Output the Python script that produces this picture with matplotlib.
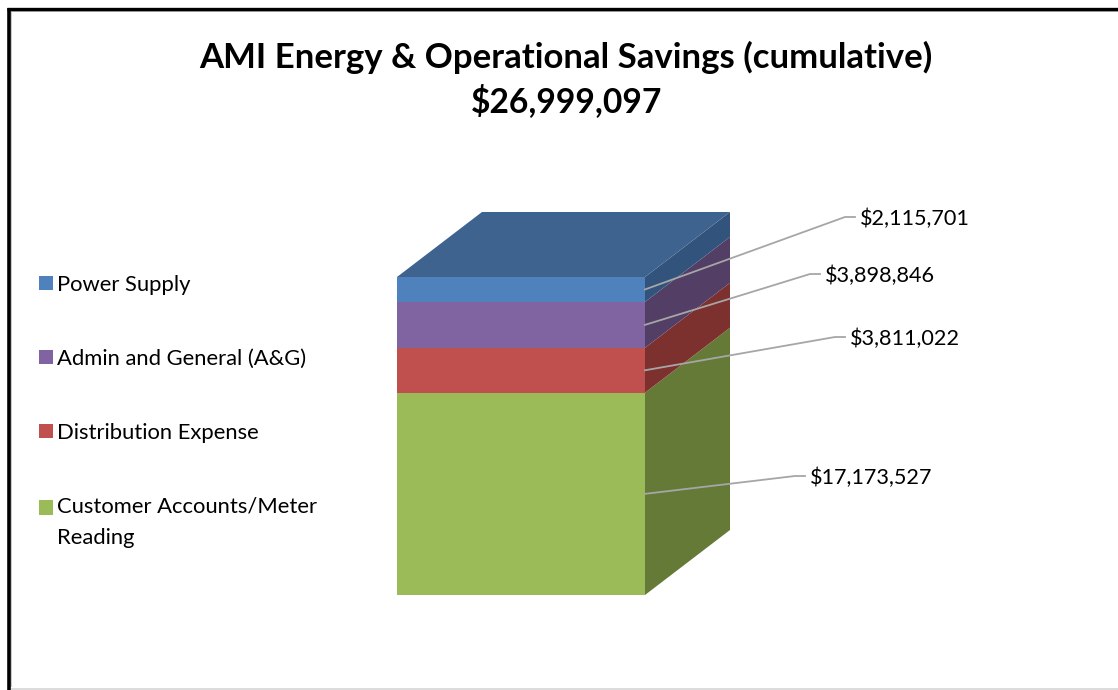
from matplotlib import pyplot as plt
from matplotlib import lines
from matplotlib.patches import Polygon, Patch

# Chart values, bottom of the stack first
categories = ['Customer Accounts/Meter\nReading', 'Distribution Expense', 'Admin and General (A&G)', 'Power Supply']
savings = [17173527, 3811022, 3898846, 2115701]
labels = ['$17,173,527', '$3,811,022', '$3,898,846', '$2,115,701']
titleText = 'AMI Energy & Operational Savings (cumulative)'
totalText = '$26,999,097'

# Colors for each segment, same order as above
frontColors = ['#9bbb59', '#c0504d', '#8064a2', '#4f81bd']
sideColors = ['#667a38', '#7d312f', '#533e66', '#32547c']
topColor = '#3e638f'
leaderColor = '#a6a6a6'

plt.rcParams['font.family'] = ['Lato', 'DejaVu Sans']

width, height = 1118, 690
figure = plt.figure(figsize=(width / 100, height / 100), dpi=100)

# Axes box runs over the bar including its depth, from 397..730 px and 212..595 px
left, right, top, bottom = 397, 730, 212, 595
ax = figure.add_axes([left / width, 1 - bottom / height, (right - left) / width, (bottom - top) / height])
ax.axis('off')

total = sum(savings)
pxPerUnit = 318 / total
depthX = 85 / 248
depthY = 65 / pxPerUnit
ax.set_xlim(0, 333 / 248)
ax.set_ylim(0, 383 / pxPerUnit)

# Stack the segments, side face first and then the front face
base = 0
middles = []
for i, value in enumerate(savings):
    topY = base + value
    ax.add_patch(Polygon([(1, base), (1 + depthX, base + depthY), (1 + depthX, topY + depthY), (1, topY)],
                         closed=True, facecolor=sideColors[i], edgecolor='none'))
    ax.add_patch(Polygon([(0, base), (1, base), (1, topY), (0, topY)],
                         closed=True, facecolor=frontColors[i], edgecolor='none'))
    middles.append(base + value / 2)
    base = topY

# Top of the box
ax.add_patch(Polygon([(0, base), (1, base), (1 + depthX, base + depthY), (depthX, base + depthY)],
                     closed=True, facecolor=topColor, edgecolor='none'))

# Where each leader bends, and where its label starts (pixels from the right edge of the front face)
elbowX = [150, 190, 165, 200]
elbowY = [476, 337, 274, 217]
textGap = 14.5
for i, label in enumerate(labels):
    elbowData = (1 + (elbowX[i]) / 248, (595 - elbowY[i]) / pxPerUnit)
    ax.plot([1, elbowData[0], elbowData[0] + 10 / 248], [middles[i], elbowData[1], elbowData[1]],
            color=leaderColor, linewidth=1.3, clip_on=False, zorder=5)
    ax.text(elbowData[0] + textGap / 248, elbowData[1] - 1.5 / pxPerUnit, label, fontsize=15.6, color='black',
            va='center', ha='left', clip_on=False)

# Legend is listed from the top of the stack down
handles = [Patch(facecolor=frontColors[i], edgecolor='none') for i in range(3, -1, -1)]
legend = figure.legend(handles, categories[::-1], loc='upper left', bbox_to_anchor=(39 / width, 1 - 275 / height),
                       frameon=False, fontsize=15.8, handlelength=0.62, handleheight=0.62, handletextpad=0.22,
                       labelspacing=2.46, borderpad=0, borderaxespad=0, alignment='left')
for legendText in legend.get_texts():
    legendText.set_linespacing(1.7)
# Two-line entry keeps its square next to the first line
lastPatch = legend.get_patches()[3]
lastPatch.set_y(lastPatch.get_y() + 11)

figure.text(566 / width, 1 - 57 / height, titleText, fontsize=25, fontweight='bold', ha='center', va='center')
figure.text(567 / width, 1 - 101 / height, totalText, fontsize=24.2, fontweight='bold', ha='center', va='center')

# Black frame on the left and top, with a grey shadow inside and a thin line at the bottom
def frameLine(xs, ys, color, lw):
    figure.add_artist(lines.Line2D([x / width for x in xs], [1 - y / height for y in ys], color=color, linewidth=lw,
                                   solid_capstyle='butt'))

frameLine([10.5, 10.5], [11, 687], '#c8c8c8', 1.4)
frameLine([11, 1118], [11, 11], '#b0b0b0', 1.4)
frameLine([11, 1118], [688.5, 688.5], '#dcdcdc', 1.4)
frameLine([8.5, 8.5], [8, 690], 'black', 2.6)
frameLine([7, 1118], [9, 9], 'black', 2.4)

figure.savefig('out.png', dpi=100)
